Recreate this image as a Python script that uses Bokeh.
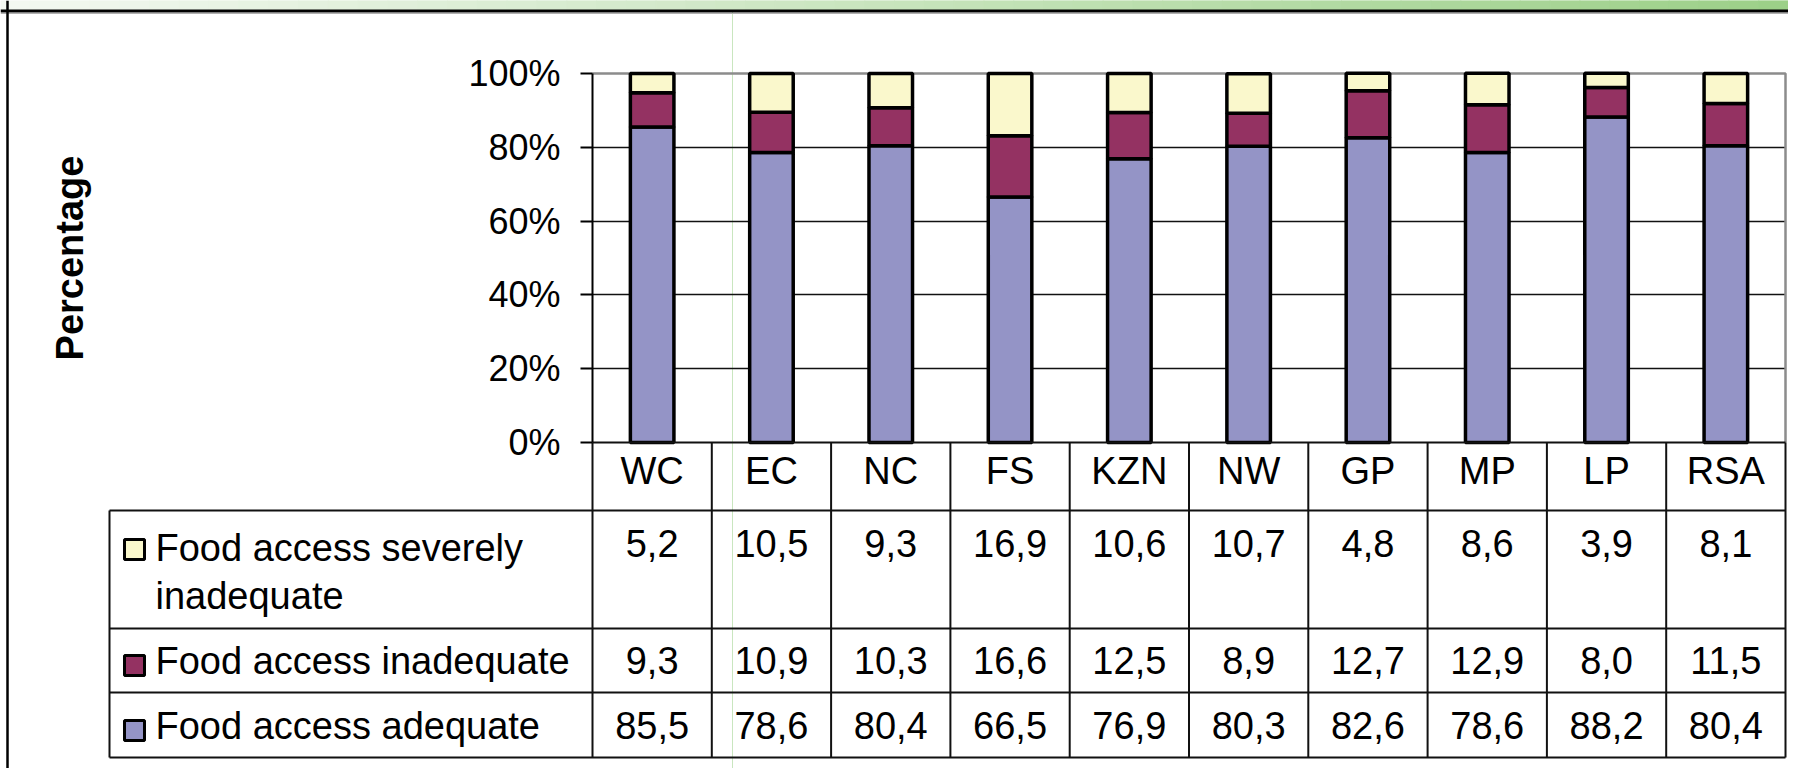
import textwrap
from bokeh.plotting import figure
from bokeh.models import ColumnDataSource, Range1d, LinearAxis, FixedTicker, Grid, Span
from bokeh.core.properties import value
from bokeh.embed import file_html
from bokeh.resources import INLINE

# ---------------- data ----------------
categories = ["WC", "EC", "NC", "FS", "KZN", "NW", "GP", "MP", "LP", "RSA"]
severe = [5.2, 10.5, 9.3, 16.9, 10.6, 10.7, 4.8, 8.6, 3.9, 8.1]
inadequate = [9.3, 10.9, 10.3, 16.6, 12.5, 8.9, 12.7, 12.9, 8.0, 11.5]
adequate = [85.5, 78.6, 80.4, 66.5, 76.9, 80.3, 82.6, 78.6, 88.2, 80.4]
series_names = ["Food access severely inadequate", "Food access inadequate", "Food access adequate"]
series_colors = ["#FAF8CC", "#943262", "#9494C6"]
y_ticks = [0, 20, 40, 60, 80, 100]
y_tick_labels = ["0%", "20%", "40%", "60%", "80%", "100%"]
y_title = "Percentage"

# ---------------- layout (canvas pixels) ----------------
W, H = 1788, 768
PL, PR, PT, PB = 592, 1785, 73, 442          # plot area: left/right, y of 100 and of 0
TABLE_L = 109
ROW_EDGES = [442, 510, 628, 692, 757]         # header top/bottom, row bottoms
HEADER_MID = 470
ROW_MIDS = [543, 660, 725]                    # value text centres per table row
LABEL_MIDS = [547, 660, 725]
LABEL_LINE = 48
SWATCH_X = 134
SWATCH_Y = [549, 665, 730]
LABEL_X = 155
FONT = value("Liberation Sans")
TXT = value("38px")

n = len(categories)
cat_px = (PR - PL) / n
pct_px = (PB - PT) / 100.0


def dx(px):
    return -0.5 + (px - PL) / cat_px


def dy(py):
    return (PB - py) / pct_px


p = figure(width=W, height=H, title=None,
           x_range=Range1d(dx(0), dx(W)), y_range=Range1d(dy(H), dy(0)),
           x_axis_type=None, y_axis_type=None,
           toolbar_location=None, output_backend="svg",
           min_border=0, outline_line_color=None,
           background_fill_color="white", border_fill_color="white")
p.min_border_left = p.min_border_right = p.min_border_top = p.min_border_bottom = 0

# page decorations (slide frame): green gradient band, black rule, left rule, guide line
steps = 60
c0, c1 = (244, 249, 242), (156, 208, 136)
bx = [dx(W * i / steps) for i in range(steps + 1)]
band_cols = ["#%02x%02x%02x" % tuple(int(a + (b - a) * (i + 0.5) / steps) for a, b in zip(c0, c1))
             for i in range(steps)]
p.quad(left=bx[:-1], right=bx[1:], bottom=[dy(9.5)] * steps, top=[dy(0)] * steps,
       fill_color=band_cols, line_color=band_cols, line_width=1)
p.add_layout(Span(location=dy(10.5), dimension="width", line_color="black", line_width=3))
p.add_layout(Span(location=dy(13), dimension="width", line_color="#b0b0b0", line_width=1))
p.add_layout(Span(location=dx(7), dimension="height", line_color="black", line_width=2.5))
p.add_layout(Span(location=dx(732), dimension="height", line_color="#c9e6bf", line_width=1, level="underlay"))

# grid lines
inner_ticks = [t for t in y_ticks if y_ticks[0] < t < y_ticks[-1]]
grid = Grid(dimension=1, ticker=FixedTicker(ticks=inner_ticks),
            grid_line_color="#111111", grid_line_width=1.6)
if "cross_bounds" in Grid.properties():
    grid.cross_bounds = (-0.5, n - 0.5)
    p.add_layout(grid)
else:
    p.segment(x0=[-0.5] * len(inner_ticks), x1=[n - 0.5] * len(inner_ticks),
              y0=inner_ticks, y1=inner_ticks, line_color="#111111", line_width=1.6, level="underlay")

# plot area top / right border (grey)
p.line(x=[-0.5, n - 0.5, n - 0.5], y=[y_ticks[-1], y_ticks[-1], y_ticks[0]],
       line_color="#8c8c8c", line_width=2.5)

# stacked bars
src = ColumnDataSource(dict(x=list(range(n)), cat=categories,
                            adequate=adequate, inadequate=inadequate, severe=severe))
p.vbar_stack(["adequate", "inadequate", "severe"], x="x", width=0.365,
             fill_color=[series_colors[2], series_colors[1], series_colors[0]],
             line_color="black", line_width=3.5, source=src)

# y axis at the plot's left edge
yaxis = LinearAxis(fixed_location=-0.5, bounds=(y_ticks[0], y_ticks[-1]),
                   ticker=FixedTicker(ticks=y_ticks),
                   major_label_overrides={t: l for t, l in zip(y_ticks, y_tick_labels)},
                   axis_label=y_title)
yaxis.axis_line_color = "black"
yaxis.axis_line_width = 2
yaxis.major_tick_line_color = "black"
yaxis.major_tick_line_width = 2
yaxis.major_tick_out = 12
yaxis.major_tick_in = 0
yaxis.minor_tick_line_color = None
yaxis.major_label_standoff = 20
yaxis.major_label_text_font = "Liberation Sans"
yaxis.major_label_text_font_size = "36px"
yaxis.major_label_text_color = "black"
yaxis.axis_label_text_font = "Liberation Sans"
yaxis.axis_label_text_font_size = "38px"
yaxis.axis_label_text_font_style = "bold"
yaxis.axis_label_text_color = "black"
yaxis.axis_label_standoff = 374
p.add_layout(yaxis, "left")

# data table lines
tl = dx(TABLE_L)
right = n - 0.5
hx0 = [-0.5] + [tl] * (len(ROW_EDGES) - 1)
hx1 = [right] * len(ROW_EDGES)
hy = [dy(e) for e in ROW_EDGES]
p.segment(x0=hx0, x1=hx1, y0=hy, y1=hy, line_color="#111111", line_width=2)
vx = [k - 0.5 for k in range(n + 1)] + [tl]
vy0 = [dy(ROW_EDGES[0])] * (n + 1) + [dy(ROW_EDGES[1])]
vy1 = [dy(ROW_EDGES[-1])] * (n + 2)
p.segment(x0=vx, x1=vx, y0=vy0, y1=vy1, line_color="#111111", line_width=2)

# header (category names)
p.text(x="x", y=dy(HEADER_MID), text="cat", source=src, text_align="center",
       text_baseline="middle", text_font=FONT, text_font_size=TXT, text_color="black")

# table rows: series order severe, inadequate, adequate
row_values = [severe, inadequate, adequate]
for r, vals in enumerate(row_values):
    labels = [f"{v:.1f}".replace(".", ",") for v in vals]
    p.text(x=list(range(n)), y=[dy(ROW_MIDS[r])] * n, text=labels, text_align="center",
           text_baseline="middle", text_font=FONT, text_font_size=TXT, text_color="black")
    lines = textwrap.wrap(series_names[r], 22)
    p.text(x=[dx(LABEL_X)] * len(lines),
           y=[dy(LABEL_MIDS[r] + i * LABEL_LINE) for i in range(len(lines))],
           text=lines, text_align="left", text_baseline="middle",
           text_font=FONT, text_font_size=TXT, text_color="black")

p.scatter(x=[dx(SWATCH_X)] * 3, y=[dy(v) for v in SWATCH_Y], marker="square", size=20,
          fill_color=series_colors, line_color="black", line_width=3)

open("out.html", "w").write(file_html(p, INLINE))
